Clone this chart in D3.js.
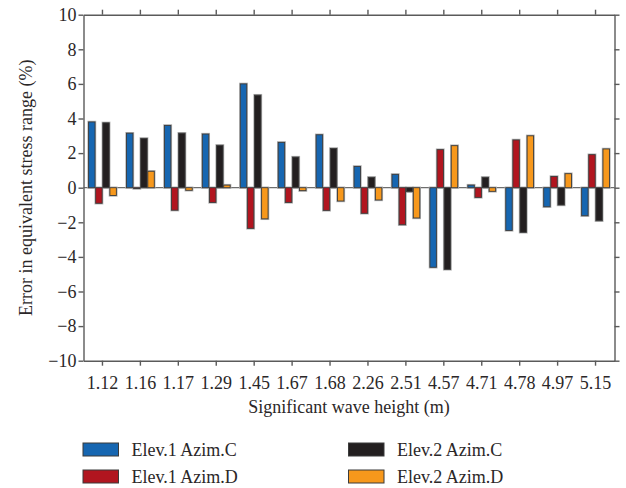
<!DOCTYPE html>
<html>
<head>
<meta charset="utf-8">
<script src="https://cdn.jsdelivr.net/npm/d3@7"></script>
<style>
  html, body { margin: 0; padding: 0; background: #fff; }
  svg { display: block; font-family: "Liberation Serif", "DejaVu Serif", serif; }
</style>
</head>
<body>
<svg id="chart" width="626" height="488"></svg>
<script>
// Significant wave heights (m) on the x axis
const waveHeights = ["1.12", "1.16", "1.17", "1.29", "1.45", "1.67", "1.68", "2.26", "2.51", "4.57", "4.71", "4.78", "4.97", "5.15"];

// Error in equivalent stress range (%) for each elevation / azimuth
const elev1AzimC = [3.8, 3.15, 3.6, 3.1, 6.0, 2.62, 3.06, 1.23, 0.77, -4.6, 0.15, -2.47, -1.1, -1.62];
const elev1AzimD = [-0.9, -0.05, -1.3, -0.85, -2.35, -0.85, -1.31, -1.48, -2.14, 2.2, -0.56, 2.76, 0.65, 1.91];
const elev2AzimC = [3.75, 2.85, 3.15, 2.45, 5.35, 1.77, 2.27, 0.6, -0.23, -4.72, 0.6, -2.58, -1.0, -1.91];
const elev2AzimD = [-0.45, 0.95, -0.15, 0.15, -1.8, -0.17, -0.77, -0.71, -1.75, 2.43, -0.21, 3.0, 0.81, 2.24];

const seriesNames = ["Elev.1 Azim.C", "Elev.1 Azim.D", "Elev.2 Azim.C", "Elev.2 Azim.D"];
const seriesColors = ["#1666b1", "#b1151f", "#231f20", "#f7981c"];
const yTicks = [-10, -8, -6, -4, -2, 0, 2, 4, 6, 8, 10];

const series = [elev1AzimC, elev1AzimD, elev2AzimC, elev2AzimD];
const rows = [];
waveHeights.forEach((h, i) => {
  series.forEach((vals, s) => rows.push({ h, s, v: vals[i] }));
});

const svg = d3.select("#chart");
const plot = { left: 83.5, right: 614.5, top: 14.7, bottom: 360.7 };

const x = d3.scaleBand().domain(waveHeights).range([plot.left, plot.right]);
const xInner = d3.scaleBand().domain(d3.range(4)).range([-13.9, 13.9]).paddingInner(0.09);
const y = d3.scaleLinear().domain([-10, 10]).range([plot.bottom, plot.top]);

const axisColor = "#5a5a5a";
const textColor = "#2b2728";
const fontSize = 18;

// Zero reference line
svg.append("line")
  .attr("x1", plot.left).attr("x2", plot.right)
  .attr("y1", y(0)).attr("y2", y(0))
  .attr("stroke", "#6e6e6e").attr("stroke-width", 1.2);

// Bars: soft grey halo behind each, then the coloured bar with a dark edge
const bars = svg.append("g");
bars.selectAll("rect.halo").data(rows).join("rect")
  .attr("class", "halo")
  .attr("x", d => x(d.h) + x.bandwidth() / 2 + xInner(d.s))
  .attr("width", xInner.bandwidth())
  .attr("y", d => Math.min(y(d.v), y(0)))
  .attr("height", d => Math.abs(y(d.v) - y(0)))
  .attr("fill", "none").attr("stroke", "#b4b4b4").attr("stroke-width", 2.4);
bars.selectAll("rect.bar").data(rows).join("rect")
  .attr("class", "bar")
  .attr("x", d => x(d.h) + x.bandwidth() / 2 + xInner(d.s))
  .attr("width", xInner.bandwidth())
  .attr("y", d => Math.min(y(d.v), y(0)))
  .attr("height", d => Math.abs(y(d.v) - y(0)))
  .attr("fill", d => seriesColors[d.s])
  .attr("stroke", "#3b3b3b").attr("stroke-width", 0.9);

// Frame axes with outward ticks on all four sides
function styleAxis(g) {
  g.select(".domain").attr("stroke", axisColor).attr("stroke-width", 1.4);
  g.selectAll(".tick line").attr("stroke", axisColor).attr("stroke-width", 1.4);
}

const gLeft = svg.append("g").attr("transform", `translate(${plot.left},0)`)
  .call(d3.axisLeft(y).tickValues(yTicks).tickSize(5).tickSizeOuter(0).tickPadding(2)
    .tickFormat(d => d < 0 ? "\u2212" + Math.abs(d) : d));
styleAxis(gLeft);
gLeft.selectAll("text").attr("font-size", fontSize).attr("fill", textColor)
  .attr("font-family", "Liberation Serif, serif");

const gRight = svg.append("g").attr("transform", `translate(${plot.right},0)`)
  .call(d3.axisRight(y).tickValues(yTicks).tickSize(5).tickSizeOuter(0).tickFormat(""));
styleAxis(gRight);

const gBottom = svg.append("g").attr("transform", `translate(0,${plot.bottom})`)
  .call(d3.axisBottom(x).tickSize(5).tickSizeOuter(0).tickPadding(10.5));
styleAxis(gBottom);
gBottom.selectAll("text").attr("font-size", fontSize).attr("fill", textColor)
  .attr("font-family", "Liberation Serif, serif");

const gTop = svg.append("g").attr("transform", `translate(0,${plot.top})`)
  .call(d3.axisTop(x).tickSize(5).tickSizeOuter(0).tickFormat(""));
styleAxis(gTop);

// Axis titles
svg.append("text")
  .attr("x", (plot.left + plot.right) / 2).attr("y", 413)
  .attr("text-anchor", "middle").attr("font-size", fontSize).attr("fill", textColor)
  .text("Significant wave height (m)");
svg.append("text")
  .attr("transform", `translate(32,${(plot.top + plot.bottom) / 2}) rotate(-90)`)
  .attr("text-anchor", "middle").attr("font-size", fontSize).attr("fill", textColor)
  .text("Error in equivalent stress range (%)");

// Legend: two columns, two rows
const legendPos = [
  { x: 83, y: 443 }, { x: 83, y: 470 },
  { x: 348.5, y: 443 }, { x: 348.5, y: 470 }
];
const legend = svg.append("g");
seriesNames.forEach((name, i) => {
  const p = legendPos[i];
  legend.append("rect")
    .attr("x", p.x).attr("y", p.y).attr("width", 35.5).attr("height", 13)
    .attr("fill", seriesColors[i]).attr("stroke", "#3b3b3b").attr("stroke-width", 1);
  legend.append("text")
    .attr("x", p.x + 48.5).attr("y", p.y + 13)
    .attr("font-size", fontSize).attr("fill", textColor)
    .text(name);
});
</script>
</body>
</html>
